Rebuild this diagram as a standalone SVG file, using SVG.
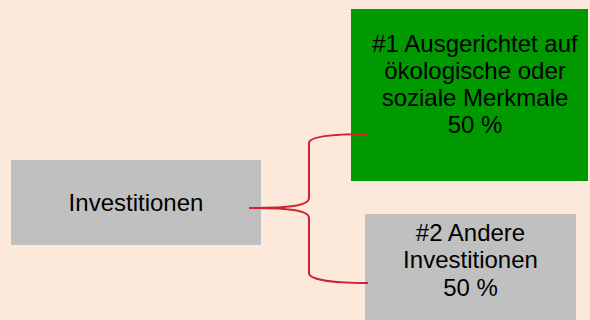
<svg xmlns="http://www.w3.org/2000/svg" width="590" height="320" viewBox="0 0 590 320">
<style>
.t{font-family:"Liberation Sans",Arial,sans-serif;font-size:24px;fill:#000;text-anchor:middle}
.c{fill:none;stroke:#CF2232;stroke-width:2}
</style>
<rect x="0" y="0" width="590" height="320" fill="#FCE9DB"/>
<g id="node-investitionen">
<rect x="11" y="160" width="250" height="85" fill="#C0C0C0"/>
<text class="t" x="136" y="211">Investitionen</text>
</g>
<g id="node-1">
<rect x="351" y="9" width="237" height="172" fill="#009900"/>
<text class="t" x="475" y="52">#1 Ausgerichtet auf</text>
<text class="t" x="475" y="79">ökologische oder</text>
<text class="t" x="475" y="106">soziale Merkmale</text>
<text class="t" x="475" y="133">50 %</text>
</g>
<g id="node-2">
<rect x="365" y="214" width="211" height="106" fill="#C0C0C0"/>
<text class="t" x="470.500" y="241">#2 Andere</text>
<text class="t" x="470.500" y="268">Investitionen</text>
<text class="t" x="470.500" y="296">50 %</text>
</g>
<g id="connectors">
<path class="c" d="M249,208 C288,208 309,206 309,198 L309,143 C309,136 335,134 368,134"/>
<path class="c" d="M249,208 C288,208 309,210 309,218 L309,273 C309,280 335,283 368,283"/>
</g>
</svg>
